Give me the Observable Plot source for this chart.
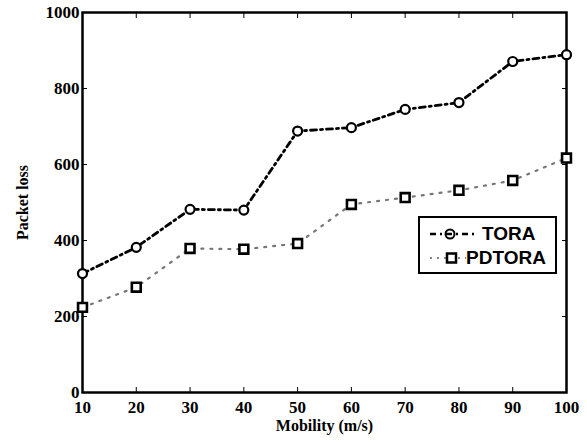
<!DOCTYPE html>
<html><head><meta charset="utf-8">
<script src="https://cdn.jsdelivr.net/npm/d3@7"></script>
<script src="https://cdn.jsdelivr.net/npm/@observablehq/plot@0.6"></script>
<style>
body{margin:0;background:#fff;}
#wrap{position:relative;width:587px;height:444px;}
#legend{position:absolute;left:418px;top:216px;width:135px;height:54px;border:2px solid #000;background:#fff;
 font-family:"Liberation Sans",Arial,sans-serif;font-weight:bold;font-size:19px;color:#000;}
#legend .row{position:absolute;left:0;height:24px;display:flex;align-items:center;}
</style></head>
<body><div id="wrap"><div id="chart"></div>
<div id="legend">
 <div class="row" style="top:4px"><svg width="62" height="24"><line x1="10" y1="12" x2="54" y2="12" stroke="#000" stroke-width="2.5" stroke-dasharray="6,4,2,4"/><circle cx="30" cy="12" r="4.5" fill="none" stroke="#000" stroke-width="2"/></svg><span>TORA</span></div>
 <div class="row" style="top:28px"><svg width="46" height="24"><line x1="10" y1="12" x2="46" y2="12" stroke="#888" stroke-width="2" stroke-dasharray="2,5"/><rect x="27" y="7.5" width="9" height="9" fill="#fff" stroke="#000" stroke-width="2.5"/></svg><span>PDTORA</span></div>
</div></div>
<script>
const mobility = [10,20,30,40,50,60,70,80,90,100];
const tora   = [313,382,482,480,688,697,745,763,871,889];
const pdtora = [224,277,379,377,392,495,513,532,558,617];
const xTicks = [10,20,30,40,50,60,70,80,90,100];
const yTicks = [0,200,400,600,800,1000];

const rows = s => mobility.map((m,i)=>({x:m,y:s[i]}));
const toraData = rows(tora), pdData = rows(pdtora);
const serif = '"Liberation Serif","DejaVu Serif",serif';
const fmt = d3.format("d");

const chart = Plot.plot({
  width:587, height:444,
  marginLeft:82, marginRight:21, marginTop:12, marginBottom:52,
  style:{fontFamily:serif, fontWeight:"bold", fontSize:"16px", background:"#fff", color:"#000"},
  x:{domain:[10,100]},
  y:{domain:[0,1000]},
  marks:[
    Plot.frame({stroke:"#000", strokeWidth:2.5}),
    Plot.axisX(xTicks,{anchor:"bottom", tickSize:-5, tickPadding:13, tickFormat:fmt, label:null, fontSize:17}),
    Plot.axisX(xTicks,{anchor:"top", tickSize:-5, tickFormat:()=>"", label:null}),
    Plot.axisY(yTicks,{anchor:"left", tickSize:-5, tickPadding:8, tickFormat:fmt, label:null, fontSize:17}),
    Plot.axisY(yTicks,{anchor:"right", tickSize:-5, tickFormat:()=>"", label:null}),
    Plot.line(toraData,{x:"x",y:"y",stroke:"#000",strokeWidth:2.8,strokeDasharray:"6,4,2,4"}),
    Plot.line(pdData,{x:"x",y:"y",stroke:"#777",strokeWidth:2.2,strokeDasharray:"2,7"}),
    Plot.dot(toraData,{x:"x",y:"y",r:4.5,stroke:"#000",strokeWidth:2.2,fill:"#fff"}),
    Plot.dot(pdData,{x:"x",y:"y",symbol:"square",r:5,stroke:"#000",strokeWidth:2.6,fill:"#fff"}),
    Plot.text(["Mobility (m/s)"],{frameAnchor:"bottom",dy:38,fontSize:16,fontWeight:"bold"}),
    Plot.text(["Packet loss"],{frameAnchor:"left",dx:-60,rotate:-90,textAnchor:"middle",fontSize:16,fontWeight:"bold"})
  ]
});
document.getElementById("chart").appendChild(chart);
</script></body></html>
